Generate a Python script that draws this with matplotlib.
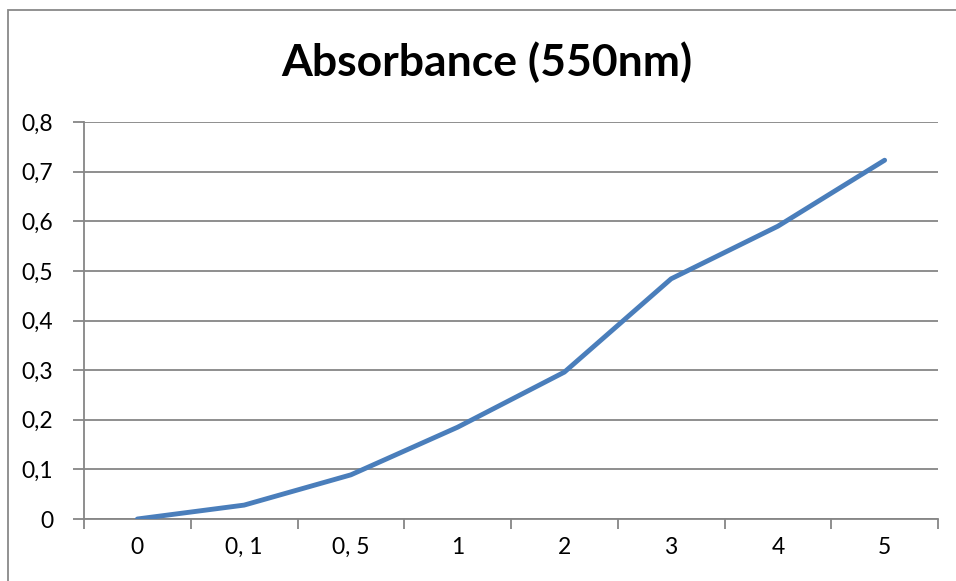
import matplotlib
matplotlib.use("Agg")
import matplotlib.pyplot as plt
from matplotlib.patches import Rectangle

categories = ["0", "0, 1", "0, 5", "1", "2", "3", "4", "5"]
absorbance = [0.0, 0.028, 0.089, 0.185, 0.296, 0.484, 0.590, 0.723]
y_ticks = [0.0, 0.1, 0.2, 0.3, 0.4, 0.5, 0.6, 0.7, 0.8]
y_labels = ["0", "0,1", "0,2", "0,3", "0,4", "0,5", "0,6", "0,7", "0,8"]

plt.rcParams["font.family"] = ["Lato", "DejaVu Sans"]

W, H = 956, 581
fig = plt.figure(figsize=(W / 100, H / 100), dpi=100)

# outer chart frame (clipped at right/bottom like the reference)
fig.patches.append(Rectangle((8 / W, -0.1), 1.2, 1 - 10 / H + 0.1, transform=fig.transFigure,
                             fill=False, edgecolor="#898989", linewidth=1.3))

ax = fig.add_axes([84 / W, 1 - 519 / H, (938 - 84) / W, (519 - 122) / H])

x = list(range(len(categories)))
ax.plot(x, absorbance, color="#4A7EBB", linewidth=3.5, solid_capstyle="round",
        solid_joinstyle="round", zorder=3)

ax.set_xlim(-0.5, len(categories) - 0.5)
ax.set_ylim(0, 0.8)
ax.set_yticks(y_ticks)
ax.set_yticklabels(y_labels, fontsize=16.5)
ax.set_xticks(x)
ax.set_xticklabels(categories, fontsize=16.5)
ax.set_xticks([i - 0.5 for i in range(len(categories) + 1)], minor=True)

ax.tick_params(axis="x", which="major", length=0, pad=13)
ax.tick_params(axis="x", which="minor", length=7, width=1.3, color="#868686", direction="out")
ax.tick_params(axis="y", length=8, width=1.3, color="#868686", pad=14)

ax.grid(axis="y", color="#868686", linewidth=1.3)
for s in ["top", "right"]:
    ax.spines[s].set_visible(False)
for s in ["left", "bottom"]:
    ax.spines[s].set_color("#868686")
    ax.spines[s].set_linewidth(1.3)

fig.text(487 / W, 1 - 62 / H, "Absorbance (550nm)", fontsize=32, fontweight="bold",
         ha="center", va="center")

fig.savefig("out.png", dpi=100)
